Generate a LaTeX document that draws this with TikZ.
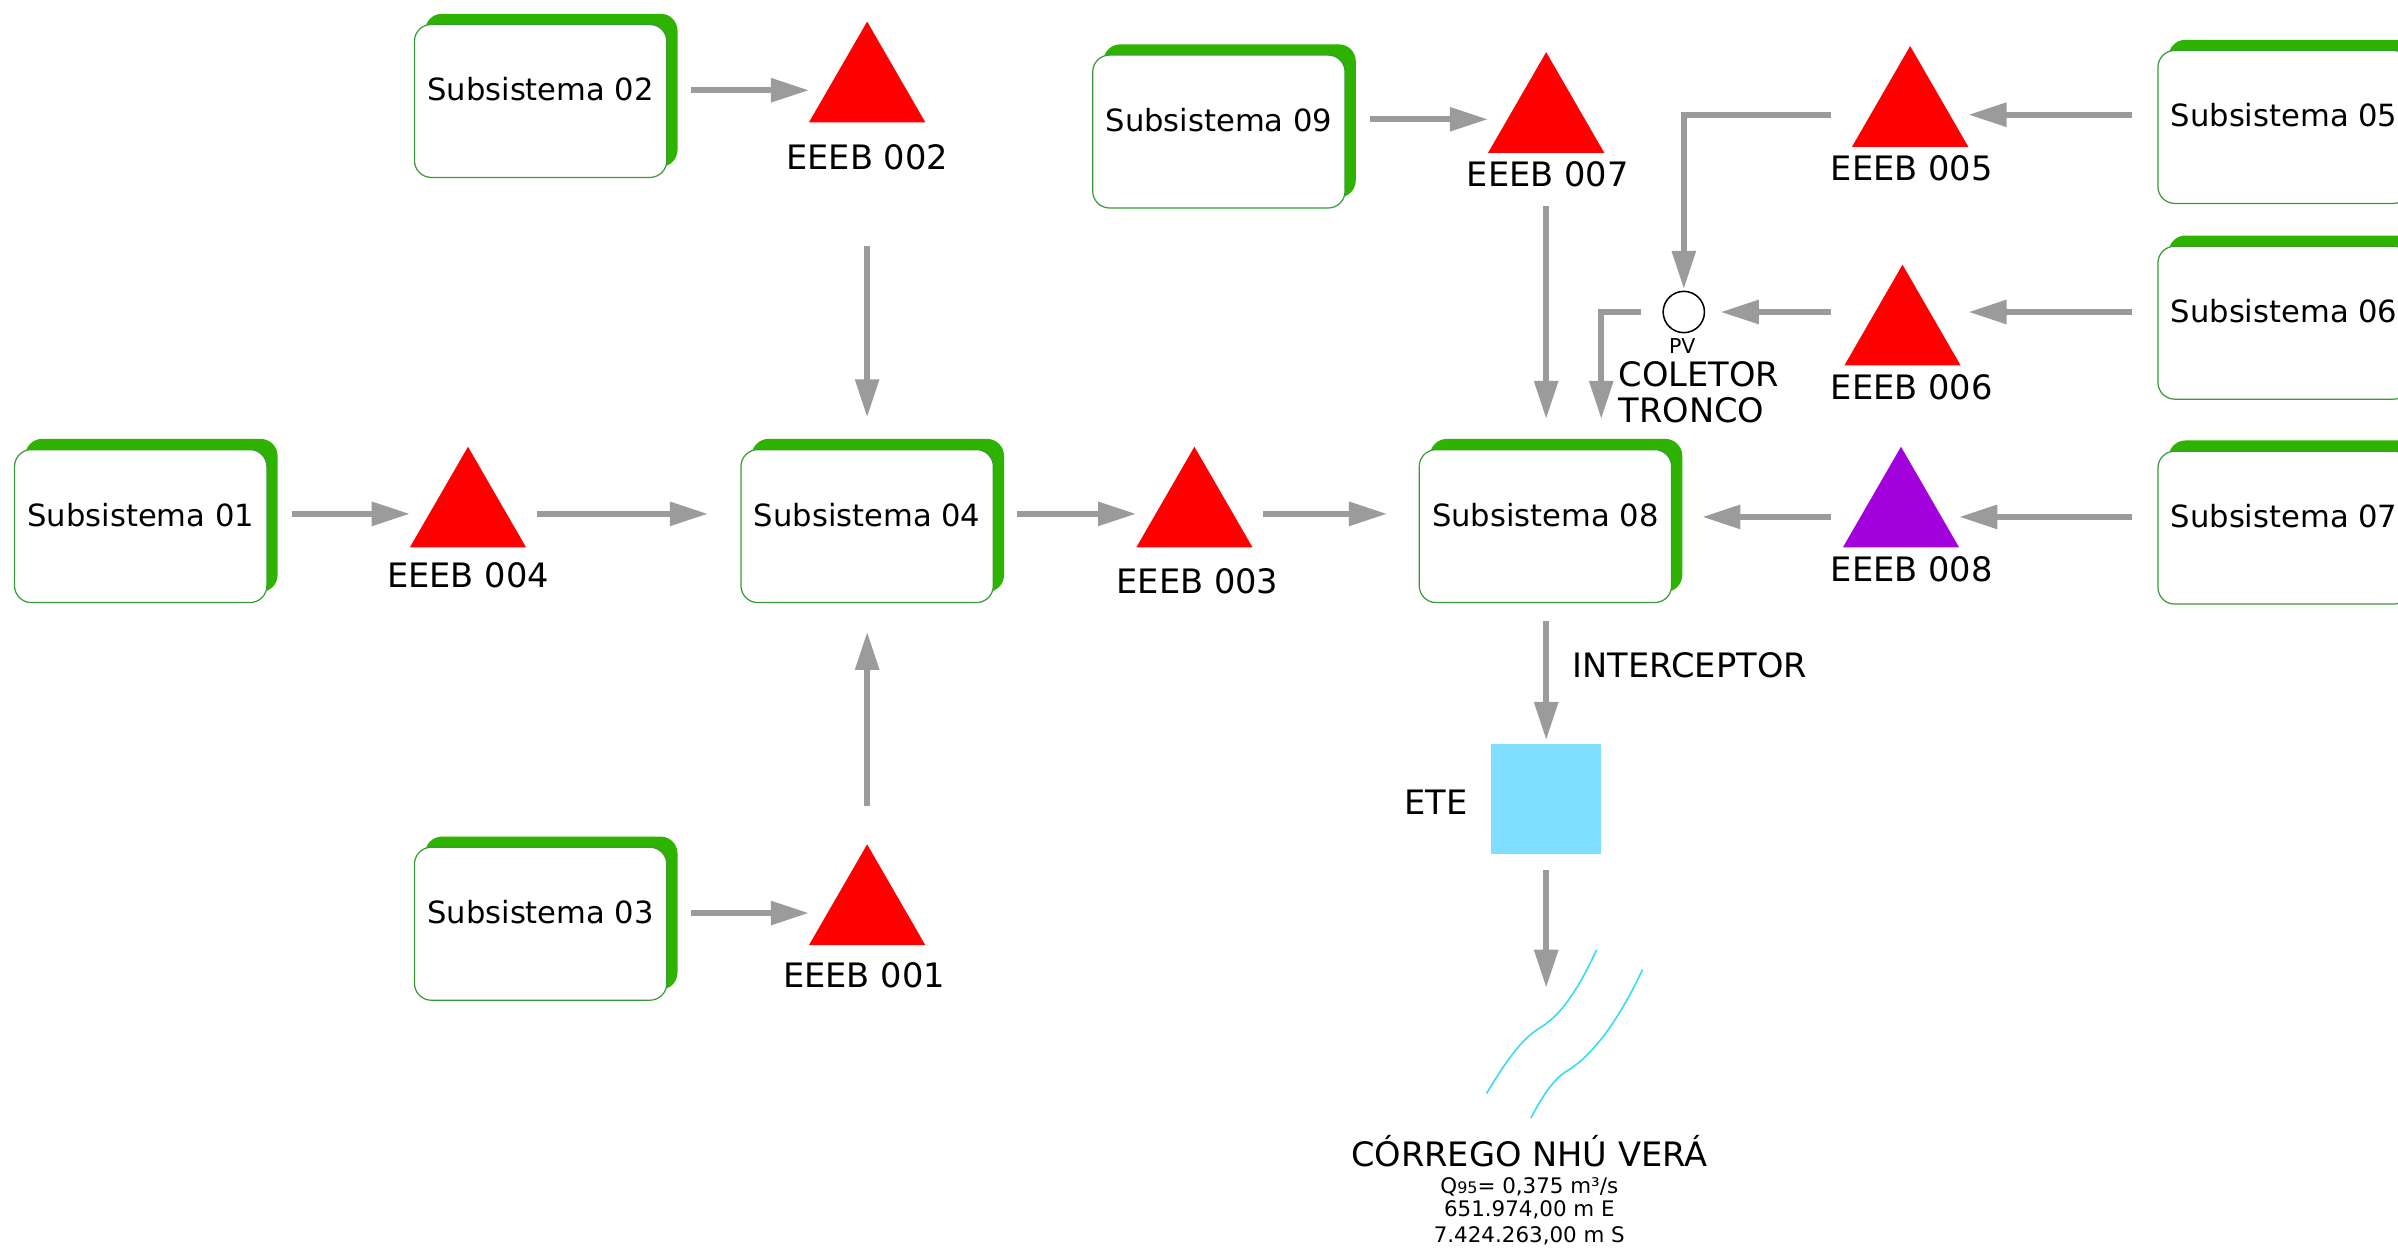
\documentclass[tikz,border=0pt]{standalone}
\usepackage{fontspec}
\setmainfont{DejaVu Sans}
\usetikzlibrary{shapes.geometric,arrows.meta,shadows}
\definecolor{agray}{HTML}{9B9B9B}
\definecolor{sgreen}{HTML}{2DB300}
\definecolor{bgreen}{HTML}{3A9A3A}
\definecolor{epurple}{HTML}{A200DD}
\definecolor{etecyan}{HTML}{80DFFF}
\definecolor{rivercyan}{HTML}{30DDEE}
\begin{document}
\begin{tikzpicture}[x=0.5pt,y=-0.5pt,
  subbox/.style={draw=bgreen, line width=0.4pt, fill=white, rounded corners=5.5pt,
    minimum width=82.5pt, minimum height=50pt, inner sep=0pt,
    text height=7.6pt, text depth=7.6pt, font=\fontsize{10}{12}\selectfont,
    drop shadow={shadow xshift=3.5pt, shadow yshift=3.5pt, fill=sgreen, opacity=1}},
  pump/.style={regular polygon, regular polygon sides=3, minimum size=43.9pt,
    inner sep=0pt, outer sep=0pt, fill=red, draw=none},
  lab/.style={inner sep=0pt, font=\fontsize{11}{13}\selectfont, text height=8pt, text depth=0pt},
  small/.style={inner sep=0pt, font=\fontsize{7}{8.4}\selectfont, text height=5.1pt, text depth=0pt},
  arr/.style={color=agray, line width=2pt, -{Triangle[length=12.5pt,width=7.5pt]}},
  river/.style={draw=rivercyan, line width=0.5pt}]
\useasboundingbox (0,0) rectangle (1568,816);
\clip (0,0) rectangle (1568,816);

% subsystems
\node[subbox] (s01) at (92,344) {Subsistema 01};
\node[subbox] (s02) at (353.5,66) {Subsistema 02};
\node[subbox] (s03) at (353.5,604) {Subsistema 03};
\node[subbox] (s04) at (567,344) {Subsistema 04};
\node[subbox] (s08) at (1010.5,344) {Subsistema 08};
\node[subbox] (s09) at (797,86) {Subsistema 09};
\node[subbox] (s05) at (1493.5,83) {Subsistema 05};
\node[subbox] (s06) at (1493.5,211) {Subsistema 06};
\node[subbox] (s07) at (1493.5,345) {Subsistema 07};

% pumping stations
\node[pump] (e02) at (567,58) {};
\node[pump] (e04) at (306,336) {};
\node[pump] (e03) at (781,336) {};
\node[pump] (e01) at (567,596) {};
\node[pump] (e07) at (1011,78) {};
\node[pump] (e05) at (1249,74) {};
\node[pump] (e06) at (1244,217) {};
\node[pump, fill=epurple] (e08) at (1243,336) {};

\node[lab] (l02) at (567,103) {EEEB 002};
\node[lab] (l04) at (306,376) {EEEB 004};
\node[lab] (l03) at (783,380) {EEEB 003};
\node[lab] (l01) at (565,638) {EEEB 001};
\node[lab] (l07) at (1012,114) {EEEB 007};
\node[lab] (l05) at (1250,110) {EEEB 005};
\node[lab] (l06) at (1250,253) {EEEB 006};
\node[lab] (l08) at (1250,372) {EEEB 008};

% PV and collector
\node[circle, draw=black, line width=0.5pt, minimum size=13.5pt, inner sep=0pt] (pv) at (1101,204) {};
\node[small, font=\fontsize{6.7}{8}\selectfont, text height=4.9pt] (pvl) at (1100,226) {PV};
\node[lab, anchor=west] (col) at (1058,245) {COLETOR};
\node[lab, anchor=west] (tro) at (1058,268) {TRONCO};

% ETE
\node[fill=etecyan, minimum size=36pt, inner sep=0pt] (ete) at (1011,522.5) {};
\node[lab] (etel) at (939,524.5) {ETE};
\node[lab, anchor=west] (intl) at (1028,435) {INTERCEPTOR};

% river
\coordinate (riv) at (1011,646);
\draw[river] (1044,621) .. controls (1036,638) and (1024,662) .. (1007,672)
  .. controls (995,679) and (984,695) .. (972,715);
\draw[river] (1074,634) .. controls (1066,651) and (1048,686) .. (1025,700)
  .. controls (1015,706) and (1008,718) .. (1001,731);
\node[lab] (cor) at (1000,754.5) {CÓRREGO NHÚ VERÁ};
\node[small] (q95) at (1000,775) {Q{\fontsize{5.2}{6}\selectfont 95}= 0,375 m³/s};
\node[small] (coe) at (1000,790) {651.974,00 m E};
\node[small] (cos) at (1000,807.5) {7.424.263,00 m S};

% connectors
\draw[arr] ([shift={(98.5,-7)}]s02.center) -- ([shift={(-38,1)}]e02.center);
\draw[arr] ([shift={(0,103)}]e02.center) -- ([shift={(0,-71)}]s04.center);
\draw[arr] ([shift={(99,-8)}]s01.center) -- ([shift={(-38,0)}]e04.center);
\draw[arr] ([shift={(45,0)}]e04.center) -- ([shift={(-104,-8)}]s04.center);
\draw[arr] ([shift={(0,-69)}]e01.center) -- ([shift={(0,69)}]s04.center);
\draw[arr] ([shift={(98.5,-7)}]s03.center) -- ([shift={(-38,1)}]e01.center);
\draw[arr] ([shift={(98,-8)}]s04.center) -- ([shift={(-38,0)}]e03.center);
\draw[arr] ([shift={(45,0)}]e03.center) -- ([shift={(-103.5,-8)}]s08.center);
\draw[arr] ([shift={(99,-8)}]s09.center) -- ([shift={(-38,0)}]e07.center);
\draw[arr] ([shift={(0,57)}]e07.center) -- ([shift={(0.5,-70)}]s08.center);
\draw[arr] ([shift={(-52,1)}]e05.center) -| ([shift={(0,-15)}]pv.center);
\draw[arr] ([shift={(-99.5,-8)}]s05.center) -- ([shift={(38,1)}]e05.center);
\draw[arr] ([shift={(-99.5,-7)}]s06.center) -- ([shift={(43,-13)}]e06.center);
\draw[arr] ([shift={(-47,-13)}]e06.center) -- ([shift={(24,0)}]pv.center);
\draw[arr] ([shift={(-28,0)}]pv.center) -| ([shift={(36.5,-70)}]s08.center);
\draw[arr] ([shift={(-46,2)}]e08.center) -- ([shift={(102.5,-6)}]s08.center);
\draw[arr] ([shift={(-99.5,-7)}]s07.center) -- ([shift={(38,2)}]e08.center);
\draw[arr] ([shift={(0.5,62)}]s08.center) -- ([shift={(0,-38.5)}]ete.center);
\draw[arr] ([shift={(0,46.5)}]ete.center) -- (riv);
\end{tikzpicture}
\end{document}
